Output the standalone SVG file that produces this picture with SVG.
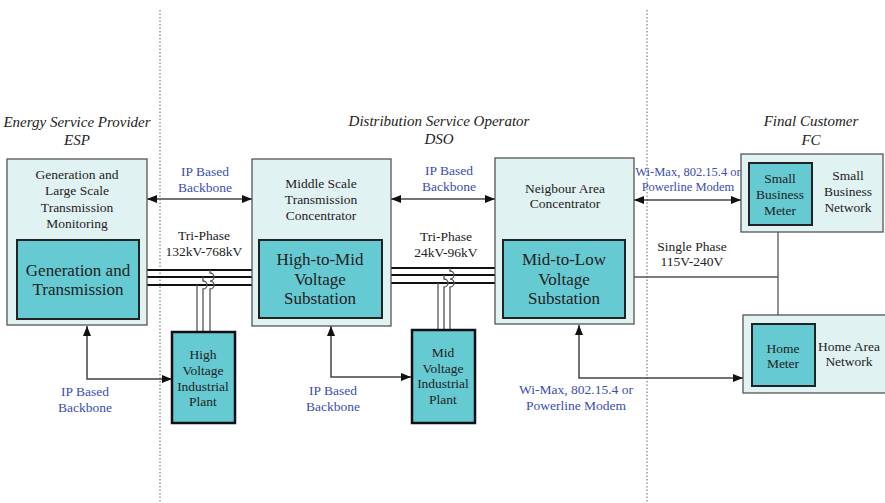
<svg xmlns="http://www.w3.org/2000/svg" width="885" height="503" viewBox="0 0 885 503">
<defs>
<marker id="ah" viewBox="0 0 10 8" refX="10" refY="4" markerWidth="10" markerHeight="8" markerUnits="userSpaceOnUse" orient="auto-start-reverse">
<path d="M0,0 L10,4 L0,8 Z" fill="#111"/>
</marker>
</defs>
<style>
text{font-family:"Liberation Serif","Times New Roman",serif;fill:#222;text-anchor:middle;dominant-baseline:central}
.hd{font-style:italic;font-size:15px}
.t13{font-size:13.5px}
.t16{font-size:17px}
.bl{fill:#3a4db3;font-size:13.5px}
.bs{fill:#3a4db3;font-size:12.5px}
.outer{fill:#e1f2f2;stroke:#555;stroke-width:1.3}
.inner{fill:#66cad2;stroke:#222;stroke-width:2}
.plant{fill:#66cad2;stroke:#111;stroke-width:2.5}
.arr{fill:none;stroke:#444;stroke-width:1.5}
.pw{fill:none;stroke:#111;stroke-width:2}
.tw{fill:none;stroke:#555;stroke-width:1.3}
.dot{stroke:#666;stroke-width:1;stroke-dasharray:1.5 2}
</style>
<line class="dot" x1="160" y1="10" x2="160" y2="503"/>
<line class="dot" x1="647" y1="10" x2="647" y2="503"/>
<g id="headers">
<text class="hd" x="77" y="122">Energy Service Provider</text>
<text class="hd" x="77" y="140">ESP</text>
<text class="hd" x="439" y="121">Distribution Service Operator</text>
<text class="hd" x="439" y="139">DSO</text>
<text class="hd" x="811" y="121">Final Customer</text>
<text class="hd" x="811" y="140">FC</text>
</g>
<g id="connectors">
<line class="arr" x1="147" y1="199" x2="252" y2="199" marker-start="url(#ah)" marker-end="url(#ah)"/>
<line class="arr" x1="391" y1="199" x2="495" y2="199" marker-start="url(#ah)" marker-end="url(#ah)"/>
<line class="arr" x1="634" y1="200" x2="741" y2="200" marker-start="url(#ah)" marker-end="url(#ah)"/>
<polyline class="arr" points="87,326 87,379 172,379" marker-start="url(#ah)" marker-end="url(#ah)"/>
<polyline class="arr" points="331,326 331,377 411,377" marker-start="url(#ah)" marker-end="url(#ah)"/>
<polyline class="arr" points="579,325 579,378 743,378" marker-start="url(#ah)" marker-end="url(#ah)"/>
<line class="pw" x1="139" y1="270" x2="259" y2="270"/>
<line class="pw" x1="139" y1="277" x2="259" y2="277"/>
<line class="pw" x1="139" y1="285" x2="259" y2="285"/>
<path class="tw" d="M197,285 V332"/>
<path class="tw" d="M203,277 V281 a4,4 0 0 1 0,8 V332"/>
<path class="tw" d="M210,270 V273 a4,4 0 0 1 0,8 a4,4 0 0 1 0,8 V332"/>
<line class="pw" x1="382" y1="268" x2="503" y2="268"/>
<line class="pw" x1="382" y1="275" x2="503" y2="275"/>
<line class="pw" x1="382" y1="283" x2="503" y2="283"/>
<path class="tw" d="M438,283 V330"/>
<path class="tw" d="M444,275 V279 a4,4 0 0 1 0,8 V330"/>
<path class="tw" d="M450,268 V271 a4,4 0 0 1 0,8 a4,4 0 0 1 0,8 V330"/>
<polyline class="tw" points="625,277 778,277"/>
<line class="tw" x1="778" y1="225" x2="778" y2="324"/>
<text class="bl" x="205" y="171">IP Based</text>
<text class="bl" x="205" y="187">Backbone</text>
<text class="bl" x="449" y="170">IP Based</text>
<text class="bl" x="449" y="186">Backbone</text>
<text class="bs" x="688" y="172">Wi-Max, 802.15.4 or</text>
<text class="bs" x="688" y="187">Powerline Modem</text>
<text class="bl" x="85" y="391">IP Based</text>
<text class="bl" x="85" y="407">Backbone</text>
<text class="bl" x="333" y="390">IP Based</text>
<text class="bl" x="333" y="406">Backbone</text>
<text class="bl" x="576" y="389">Wi-Max, 802.15.4 or</text>
<text class="bl" x="576" y="405">Powerline Modem</text>
<text class="t13" x="204" y="235">Tri-Phase</text>
<text class="t13" x="204" y="251">132kV-768kV</text>
<text class="t13" x="446" y="236">Tri-Phase</text>
<text class="t13" x="446" y="252">24kV-96kV</text>
<text class="t13" x="692" y="246">Single Phase</text>
<text class="t13" x="692" y="261">115V-240V</text>
</g>
<g id="esp">
<rect class="outer" x="7" y="159" width="140" height="166"/>
<text class="t13" x="77" y="174">Generation and</text>
<text class="t13" x="77" y="190">Large Scale</text>
<text class="t13" x="77" y="207">Transmission</text>
<text class="t13" x="77" y="223">Monitoring</text>
<rect class="inner" x="17" y="240" width="122" height="79"/>
<text class="t16" x="78" y="270">Generation and</text>
<text class="t16" x="78" y="289">Transmission</text>
</g>
<g id="dso-mid">
<rect class="outer" x="252" y="159" width="139" height="167"/>
<text class="t13" x="321" y="183">Middle Scale</text>
<text class="t13" x="321" y="199">Transmission</text>
<text class="t13" x="321" y="215">Concentrator</text>
<rect class="inner" x="259" y="240" width="123" height="78"/>
<text class="t16" x="320" y="259">High-to-Mid</text>
<text class="t16" x="320" y="279">Voltage</text>
<text class="t16" x="320" y="298">Substation</text>
</g>
<g id="dso-nb">
<rect class="outer" x="495" y="158" width="139" height="166"/>
<text class="t13" x="565" y="188">Neigbour Area</text>
<text class="t13" x="565" y="203">Concentrator</text>
<rect class="inner" x="503" y="240" width="122" height="78"/>
<text class="t16" x="564" y="259">Mid-to-Low</text>
<text class="t16" x="564" y="279">Voltage</text>
<text class="t16" x="564" y="298">Substation</text>
</g>
<g id="hv-plant">
<rect class="plant" x="172" y="332" width="63" height="91"/>
<text class="t13" x="203" y="354">High</text>
<text class="t13" x="203" y="370">Voltage</text>
<text class="t13" x="203" y="386">Industrial</text>
<text class="t13" x="203" y="401">Plant</text>
</g>
<g id="mv-plant">
<rect class="plant" x="412" y="330" width="63" height="93"/>
<text class="t13" x="443" y="352">Mid</text>
<text class="t13" x="443" y="368">Voltage</text>
<text class="t13" x="443" y="383">Industrial</text>
<text class="t13" x="443" y="399">Plant</text>
</g>
<g id="sbn">
<rect class="outer" x="741" y="154" width="142" height="78"/>
<rect class="inner" x="749" y="163" width="63" height="62"/>
<text class="t13" x="780" y="178">Small</text>
<text class="t13" x="780" y="194">Business</text>
<text class="t13" x="780" y="210">Meter</text>
<text class="t13" x="848" y="175">Small</text>
<text class="t13" x="848" y="191">Business</text>
<text class="t13" x="848" y="207">Network</text>
</g>
<g id="han">
<rect class="outer" x="743" y="315" width="145" height="78"/>
<rect class="inner" x="752" y="324" width="63" height="62"/>
<text class="t13" x="783" y="348">Home</text>
<text class="t13" x="783" y="363">Meter</text>
<text class="t13" x="849" y="346">Home Area</text>
<text class="t13" x="849" y="361">Network</text>
</g>
</svg>
